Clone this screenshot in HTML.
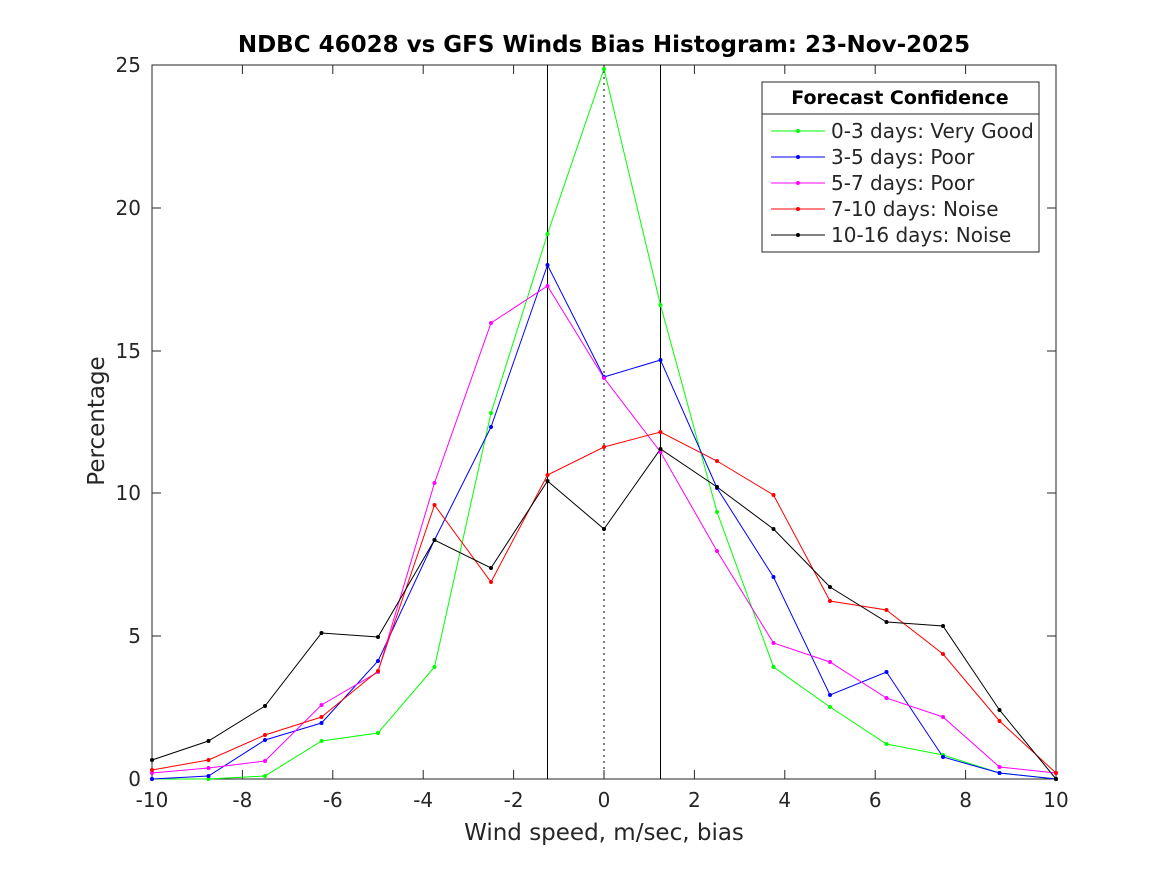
<!DOCTYPE html>
<html><head><meta charset="utf-8"><style>
html,body{margin:0;padding:0;background:#fff;}
text{font-family:"DejaVu Sans","Liberation Sans",sans-serif;fill:#262626;}
</style></head><body>
<svg width="1167" height="875" viewBox="0 0 1167 875" xmlns="http://www.w3.org/2000/svg">
<rect width="1167" height="875" fill="#fff"/>
<rect x="152" y="65" width="904" height="714" fill="#fff" stroke="#262626" stroke-width="1"/>
<g stroke="#262626" stroke-width="1">
<line x1="152" y1="779" x2="152" y2="770"/><line x1="242.4" y1="779" x2="242.4" y2="770"/><line x1="332.8" y1="779" x2="332.8" y2="770"/><line x1="423.2" y1="779" x2="423.2" y2="770"/><line x1="513.6" y1="779" x2="513.6" y2="770"/><line x1="604" y1="779" x2="604" y2="770"/><line x1="694.4" y1="779" x2="694.4" y2="770"/><line x1="784.8" y1="779" x2="784.8" y2="770"/><line x1="875.2" y1="779" x2="875.2" y2="770"/><line x1="965.6" y1="779" x2="965.6" y2="770"/>
<line x1="242.4" y1="65" x2="242.4" y2="74"/><line x1="332.8" y1="65" x2="332.8" y2="74"/><line x1="423.2" y1="65" x2="423.2" y2="74"/><line x1="513.6" y1="65" x2="513.6" y2="74"/><line x1="694.4" y1="65" x2="694.4" y2="74"/><line x1="784.8" y1="65" x2="784.8" y2="74"/><line x1="875.2" y1="65" x2="875.2" y2="74"/><line x1="965.6" y1="65" x2="965.6" y2="74"/>
<line x1="152" y1="636" x2="161" y2="636"/><line x1="152" y1="493" x2="161" y2="493"/><line x1="152" y1="351" x2="161" y2="351"/><line x1="152" y1="208" x2="161" y2="208"/>
<line x1="1056" y1="636" x2="1047" y2="636"/><line x1="1056" y1="493" x2="1047" y2="493"/><line x1="1056" y1="351" x2="1047" y2="351"/><line x1="1056" y1="208" x2="1047" y2="208"/>
</g>
<g font-size="20" text-anchor="middle">
<text x="152" y="807">-10</text><text x="242.4" y="807">-8</text><text x="332.8" y="807">-6</text><text x="423.2" y="807">-4</text><text x="513.6" y="807">-2</text><text x="604" y="807">0</text><text x="694.4" y="807">2</text><text x="784.8" y="807">4</text><text x="875.2" y="807">6</text><text x="965.6" y="807">8</text><text x="1056" y="807">10</text>
</g>
<g font-size="20" text-anchor="end">
<text x="141" y="786">0</text><text x="141" y="643">5</text><text x="141" y="500">10</text><text x="141" y="358">15</text><text x="141" y="215">20</text><text x="141" y="72">25</text>
</g>
<text x="604" y="840" font-size="23" text-anchor="middle">Wind speed, m/sec, bias</text>
<text transform="translate(104,421) rotate(-90)" font-size="23" text-anchor="middle">Percentage</text>
<text x="604" y="52" font-size="23" font-weight="bold" text-anchor="middle" style="fill:#000">NDBC 46028 vs GFS Winds Bias Histogram: 23-Nov-2025</text>
<line x1="547.5" y1="65" x2="547.5" y2="779" stroke="#000"/>
<line x1="660.5" y1="65" x2="660.5" y2="779" stroke="#000"/>
<line x1="604" y1="65" x2="604" y2="779" stroke="#000" stroke-dasharray="2,4"/>
<g fill="none" stroke-width="1">
<polyline stroke="#00ff00" points="152,779 208.5,779 265,776 321.5,741 378,733 434.5,667 491,413 547.5,234 604,69 660.5,305 717,512 773.5,667 830,707 886.5,744 943,755 999.5,773 1056,779"/>
<polyline stroke="#0000ff" points="152,779 208.5,776 265,740 321.5,723 378,661 434.5,540 491,427 547.5,265 604,377 660.5,360 717,488 773.5,577 830,695 886.5,672 943,757 999.5,773 1056,779"/>
<polyline stroke="#ff00ff" points="152,773 208.5,768 265,761 321.5,705 378,672 434.5,483 491,323 547.5,286 604,378 660.5,452 717,551 773.5,643 830,662 886.5,698 943,717 999.5,767 1056,773"/>
<polyline stroke="#ff0000" points="152,770 208.5,760 265,735 321.5,717 378,671 434.5,505 491,582 547.5,475 604,447 660.5,432 717,461 773.5,495 830,601 886.5,610 943,654 999.5,721 1056,773"/>
<polyline stroke="#000000" points="152,760 208.5,741 265,706 321.5,633 378,637 434.5,540 491,568 547.5,481 604,529 660.5,449 717,487 773.5,529 830,587 886.5,622 943,626 999.5,710 1056,779"/>
</g>
<rect x="762" y="82" width="277" height="170" fill="#fff" stroke="#262626"/>
<line x1="762" y1="114" x2="1039" y2="114" stroke="#262626"/>
<text x="900" y="104" font-size="19" font-weight="bold" text-anchor="middle" style="fill:#000">Forecast Confidence</text>
<g font-size="20">
<line x1="771" y1="131" x2="825" y2="131" stroke="#00ff00"/><circle cx="798" cy="131" r="2" fill="#00ff00"/><text x="831" y="138">0-3 days: Very Good</text>
<line x1="771" y1="157" x2="825" y2="157" stroke="#0000ff"/><circle cx="798" cy="157" r="2" fill="#0000ff"/><text x="831" y="164">3-5 days: Poor</text>
<line x1="771" y1="183" x2="825" y2="183" stroke="#ff00ff"/><circle cx="798" cy="183" r="2" fill="#ff00ff"/><text x="831" y="190">5-7 days: Poor</text>
<line x1="771" y1="209" x2="825" y2="209" stroke="#ff0000"/><circle cx="798" cy="209" r="2" fill="#ff0000"/><text x="831" y="216">7-10 days: Noise</text>
<line x1="771" y1="235" x2="825" y2="235" stroke="#000"/><circle cx="798" cy="235" r="2" fill="#000"/><text x="831" y="242">10-16 days: Noise</text>
</g>
<g>
<g fill="#00ff00"><circle cx="152" cy="779" r="2"/><circle cx="208.5" cy="779" r="2"/><circle cx="265" cy="776" r="2"/><circle cx="321.5" cy="741" r="2"/><circle cx="378" cy="733" r="2"/><circle cx="434.5" cy="667" r="2"/><circle cx="491" cy="413" r="2"/><circle cx="547.5" cy="234" r="2"/><circle cx="604" cy="69" r="2"/><circle cx="660.5" cy="305" r="2"/><circle cx="717" cy="512" r="2"/><circle cx="773.5" cy="667" r="2"/><circle cx="830" cy="707" r="2"/><circle cx="886.5" cy="744" r="2"/><circle cx="943" cy="755" r="2"/><circle cx="999.5" cy="773" r="2"/><circle cx="1056" cy="779" r="2"/></g>
<g fill="#0000ff"><circle cx="152" cy="779" r="2"/><circle cx="208.5" cy="776" r="2"/><circle cx="265" cy="740" r="2"/><circle cx="321.5" cy="723" r="2"/><circle cx="378" cy="661" r="2"/><circle cx="434.5" cy="540" r="2"/><circle cx="491" cy="427" r="2"/><circle cx="547.5" cy="265" r="2"/><circle cx="604" cy="377" r="2"/><circle cx="660.5" cy="360" r="2"/><circle cx="717" cy="488" r="2"/><circle cx="773.5" cy="577" r="2"/><circle cx="830" cy="695" r="2"/><circle cx="886.5" cy="672" r="2"/><circle cx="943" cy="757" r="2"/><circle cx="999.5" cy="773" r="2"/><circle cx="1056" cy="779" r="2"/></g>
<g fill="#ff00ff"><circle cx="152" cy="773" r="2"/><circle cx="208.5" cy="768" r="2"/><circle cx="265" cy="761" r="2"/><circle cx="321.5" cy="705" r="2"/><circle cx="378" cy="672" r="2"/><circle cx="434.5" cy="483" r="2"/><circle cx="491" cy="323" r="2"/><circle cx="547.5" cy="286" r="2"/><circle cx="604" cy="378" r="2"/><circle cx="660.5" cy="452" r="2"/><circle cx="717" cy="551" r="2"/><circle cx="773.5" cy="643" r="2"/><circle cx="830" cy="662" r="2"/><circle cx="886.5" cy="698" r="2"/><circle cx="943" cy="717" r="2"/><circle cx="999.5" cy="767" r="2"/><circle cx="1056" cy="773" r="2"/></g>
<g fill="#ff0000"><circle cx="152" cy="770" r="2"/><circle cx="208.5" cy="760" r="2"/><circle cx="265" cy="735" r="2"/><circle cx="321.5" cy="717" r="2"/><circle cx="378" cy="671" r="2"/><circle cx="434.5" cy="505" r="2"/><circle cx="491" cy="582" r="2"/><circle cx="547.5" cy="475" r="2"/><circle cx="604" cy="447" r="2"/><circle cx="660.5" cy="432" r="2"/><circle cx="717" cy="461" r="2"/><circle cx="773.5" cy="495" r="2"/><circle cx="830" cy="601" r="2"/><circle cx="886.5" cy="610" r="2"/><circle cx="943" cy="654" r="2"/><circle cx="999.5" cy="721" r="2"/><circle cx="1056" cy="773" r="2"/></g>
<g fill="#000"><circle cx="152" cy="760" r="2"/><circle cx="208.5" cy="741" r="2"/><circle cx="265" cy="706" r="2"/><circle cx="321.5" cy="633" r="2"/><circle cx="378" cy="637" r="2"/><circle cx="434.5" cy="540" r="2"/><circle cx="491" cy="568" r="2"/><circle cx="547.5" cy="481" r="2"/><circle cx="604" cy="529" r="2"/><circle cx="660.5" cy="449" r="2"/><circle cx="717" cy="487" r="2"/><circle cx="773.5" cy="529" r="2"/><circle cx="830" cy="587" r="2"/><circle cx="886.5" cy="622" r="2"/><circle cx="943" cy="626" r="2"/><circle cx="999.5" cy="710" r="2"/><circle cx="1056" cy="779" r="2"/></g>
</g>
</svg>
</body></html>
